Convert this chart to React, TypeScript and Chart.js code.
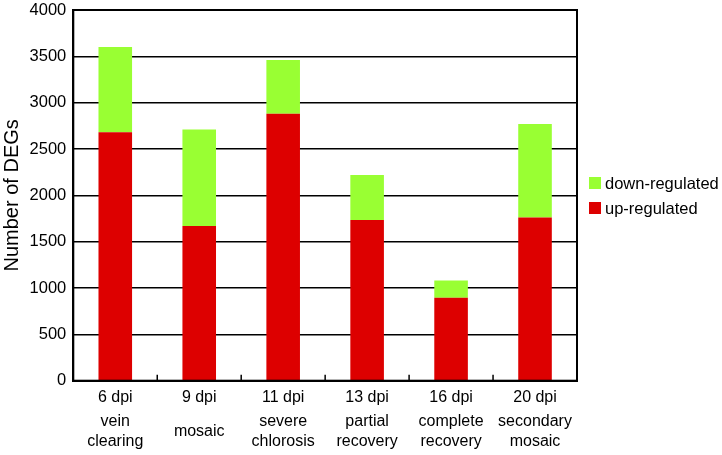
import React, { useEffect, useRef } from "react";
import { Chart, registerables } from "chart.js";

Chart.register(...registerables);

const categories = ["6 dpi", "9 dpi", "11 dpi", "13 dpi", "16 dpi", "20 dpi"];
const descriptions: string[][] = [
  ["vein", "clearing"],
  ["mosaic"],
  ["severe", "chlorosis"],
  ["partial", "recovery"],
  ["complete", "recovery"],
  ["secondary", "mosaic"],
];
const upRegulated = [2680, 1670, 2880, 1735, 895, 1760];
const downRegulated = [920, 1040, 580, 485, 185, 1010];
const yTicks = [0, 500, 1000, 1500, 2000, 2500, 3000, 3500, 4000];

const RED = "#DD0000";
const GREEN = "#99FF33";
const FONT = "'Liberation Sans', Arial, sans-serif";

const framePlugin = {
  id: "framePlugin",
  afterDraw(chart: any) {
    const { ctx, chartArea } = chart;
    const xs = chart.scales.x;
    ctx.save();
    ctx.strokeStyle = "#000";
    ctx.lineWidth = 2;
    ctx.strokeRect(chartArea.left, chartArea.top, chartArea.right - chartArea.left, chartArea.bottom - chartArea.top);
    // inward ticks at category boundaries
    ctx.lineWidth = 1.5;
    for (let i = 1; i < categories.length; i++) {
      const x = (xs.getPixelForValue(i - 1) + xs.getPixelForValue(i)) / 2;
      ctx.beginPath();
      ctx.moveTo(x, chartArea.bottom);
      ctx.lineTo(x, chartArea.bottom - 6);
      ctx.stroke();
    }
    // category labels
    ctx.fillStyle = "#000";
    ctx.font = `16px ${FONT}`;
    ctx.textAlign = "center";
    ctx.textBaseline = "middle";
    categories.forEach((c, i) => {
      const x = xs.getPixelForValue(i);
      ctx.fillText(c, x, 398);
      const d = descriptions[i];
      if (d.length === 1) {
        ctx.fillText(d[0], x, 432);
      } else {
        d.forEach((line, j) => ctx.fillText(line, x, 422 + j * 20));
      }
    });
    // legend
    const items = [
      { label: "down-regulated", color: GREEN, y: 183 },
      { label: "up-regulated", color: RED, y: 208 },
    ];
    ctx.textAlign = "left";
    ctx.font = `16.5px ${FONT}`;
    items.forEach((it) => {
      ctx.fillStyle = it.color;
      ctx.fillRect(589, it.y - 6, 12, 12);
      ctx.fillStyle = "#000";
      ctx.fillText(it.label, 605, it.y + 1);
    });
    ctx.restore();
  },
};

export default function App() {
  const ref = useRef<HTMLCanvasElement>(null);
  useEffect(() => {
    if (!ref.current) return;
    const chart = new Chart(ref.current, {
      type: "bar",
      data: {
        labels: categories,
        datasets: [
          { label: "up-regulated", data: upRegulated, backgroundColor: RED, barPercentage: 0.4, categoryPercentage: 1 },
          { label: "down-regulated", data: downRegulated, backgroundColor: GREEN, barPercentage: 0.4, categoryPercentage: 1 },
        ],
      },
      options: {
        animation: false,
        responsive: true,
        maintainAspectRatio: false,
        layout: { padding: { top: 10, right: 145, left: 0, bottom: 0 } },
        plugins: { legend: { display: false }, tooltip: { enabled: false } },
        scales: {
          x: {
            stacked: true,
            grid: { display: false },
            border: { display: true, color: "#000", width: 2 },
            ticks: { display: false },
            afterFit: (s: any) => { s.height = 74.3; s.paddingLeft = 0; s.paddingRight = 0; },
          },
          y: {
            stacked: true,
            min: 0,
            max: 4000,
            afterBuildTicks: (s: any) => { s.ticks = yTicks.map((v) => ({ value: v })); },
            grid: { color: "#000", lineWidth: 1.5, drawTicks: false },
            border: { display: true, color: "#000", width: 2 },
            ticks: {
              color: "#000",
              font: { family: FONT, size: 16.5 },
              padding: 7,
              callback: (v: any) => String(v),
            },
            title: { display: true, text: "Number of DEGs", color: "#000", font: { family: FONT, size: 20 }, padding: { top: 0, bottom: 0 } },
            afterFit: (s: any) => { s.width = 73.3; s.paddingTop = 0; s.paddingBottom = 0; },
          },
        },
      },
      plugins: [framePlugin],
    });
    return () => chart.destroy();
  }, []);
  return (
    <div style={{ position: "fixed", left: 0, top: 0, width: 722, height: 455, background: "#fff" }}>
      <canvas ref={ref} />
    </div>
  );
}
